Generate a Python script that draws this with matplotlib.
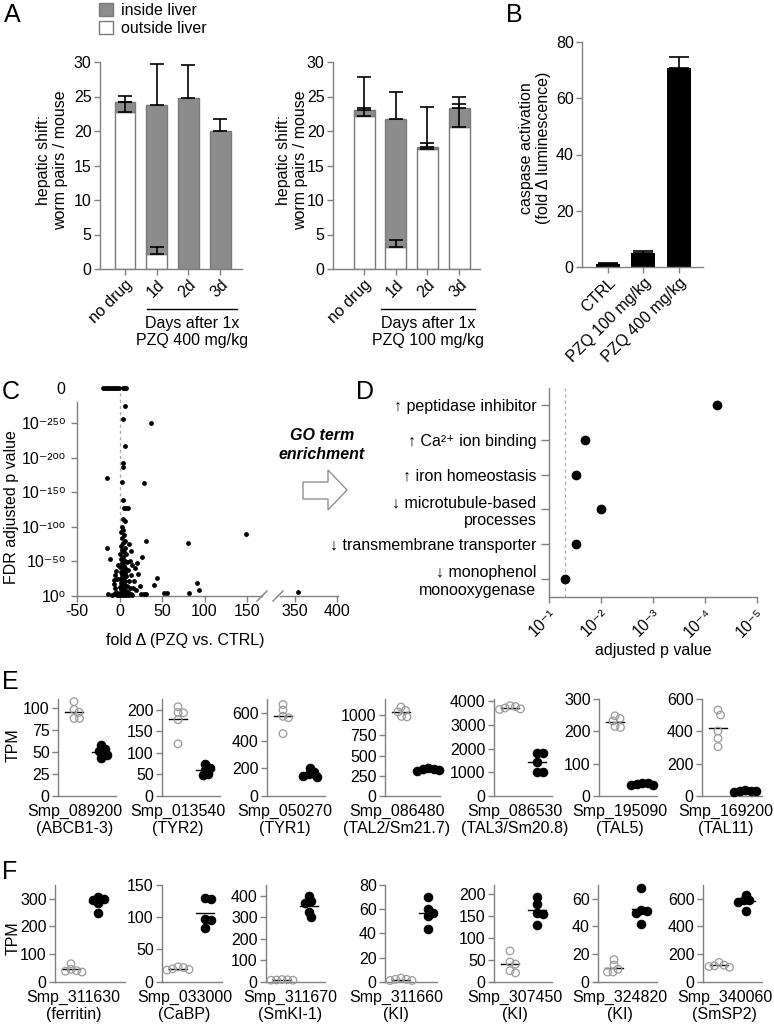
import numpy as np
import matplotlib
matplotlib.use('Agg')
from matplotlib import pyplot as plt
from matplotlib import transforms
from matplotlib.patches import Patch, Polygon
from matplotlib.lines import Line2D
from matplotlib.ticker import NullFormatter, FixedLocator

plt.rcParams['font.family'] = ['Liberation Sans', 'DejaVu Sans']
plt.rcParams['font.size'] = 11.5
plt.rcParams['axes.unicode_minus'] = False
plt.rcParams['axes.edgecolor'] = '#808080'
plt.rcParams['axes.linewidth'] = 1.0
plt.rcParams['xtick.color'] = '#808080'
plt.rcParams['ytick.color'] = '#808080'
plt.rcParams['xtick.labelcolor'] = 'black'
plt.rcParams['ytick.labelcolor'] = 'black'

W, H = 774, 1031

##### data
# A: worm pairs per mouse (outside liver / total), upper error
a_groups = ['no drug', '1d', '2d', '3d']
a400_out = [22.7, 2.2, 0.0, 0.0]
a400_out_err = [1.5, 1.0, 0.0, 0.0]
a400_tot = [24.2, 23.7, 24.8, 20.0]
a400_tot_err = [0.9, 6.0, 4.8, 1.7]
a100_out = [22.2, 3.2, 17.4, 20.6]
a100_out_err = [1.1, 1.0, 0.8, 3.3]
a100_tot = [23.0, 21.8, 17.7, 23.4]
a100_tot_err = [4.8, 3.9, 5.8, 1.5]

# B: caspase activation
b_groups = ['CTRL', 'PZQ 100 mg/kg', 'PZQ 400 mg/kg']
b_vals = [1.0, 4.9, 70.9]
b_err = [0.3, 0.9, 3.6]

# C: fold change vs -log10(FDR); 300 = p of 0
c_fold = [-19, -17, -15, -13, -11, -9, -7, -5, -3, -1, 4, 6, 8,
          7, 4.3, 37, 6, 4.5, 4.5, -14.5, 28.5, 3.5, 4, 5, 8, 10, 4, 7,
          3, 4, 2, 5, 3, 6, 4, 2, 7, 3, 5, 1, 8, 4, 2, 6, 9, 3, 5, 1, 7, 4,
          10, 2, 6, 3, 8, 5, 1, 4, 11, 7, 2, 5, 3, 9, 6, 1, 4, 12, 2, 7, 5,
          3, 10, 1, 6, 4, 8, 2, 13, 0, 5, 9, 3, 7, 11, 1, 15,
          -2, -3, -4, -5, -6, -3, -5, -4, -2, -6, -7, -9,
          15, 18, 20, 22, 16, 19, 24, 26, 14, 17, 25, 29, 31, 12, 13, 11,
          44, 41, 91.5, 93.5, 81.5, 52, 56, -14, 354, 31, 81, 149, -14.5, -11]
c_mlogp = [300, 300, 300, 300, 300, 300, 300, 300, 300, 300, 300, 300, 300,
           275, 256, 250, 217, 192, 187, 171, 163, 165, 139, 127, 127, 127, 111, 108,
           100, 95, 92, 88, 84, 80, 76, 72, 70, 67, 64, 61, 60, 57, 54, 51, 49, 47, 44, 42, 40, 38,
           37, 35, 33, 31, 29, 27, 25, 23, 22, 21, 19, 18, 16, 15, 14, 13, 12, 11, 10, 9, 8,
           7, 6, 5, 5, 4, 3, 3, 3, 2, 2, 2, 1, 1, 1, 1, 1,
           2, 1, 6, 12, 18, 25, 30, 36, 45, 23, 3, 1,
           45, 40, 47, 32, 12, 8, 14, 56, 30, 22, 3, 3, 3, 50, 65, 75,
           26, 16, 19, 9, 5, 5, 5, 3, 6, 80, 76, 89, 70, 53]
c_yticks = [0, 50, 100, 150, 200, 250]

# D: GO term enrichment
d_terms = ['\u2191 peptidase inhibitor', '\u2191 Ca\u00b2\u207a ion binding',
           '\u2191 iron homeostasis', '\u2193 microtubule-based\nprocesses',
           '\u2193 transmembrane transporter', '\u2193 monophenol\nmonooxygenase']
d_padj = [6e-5, 0.02, 0.03, 0.01, 0.03, 0.049]
d_xticks = [1e-1, 1e-2, 1e-3, 1e-4, 1e-5]

# E: downregulated genes, TPM (CTRL open, PZQ filled)
e_genes = ['Smp_089200\n(ABCB1-3)', 'Smp_013540\n(TYR2)', 'Smp_050270\n(TYR1)',
           'Smp_086480\n(TAL2/Sm21.7)', 'Smp_086530\n(TAL3/Sm20.8)',
           'Smp_195090\n(TAL5)', 'Smp_169200\n(TAL11)']
e_ctrl = [[107, 98, 95, 88, 88], [207, 194, 193, 177, 121], [660, 620, 575, 565, 450],
          [1100, 1060, 1040, 985, 980], [3820, 3780, 3720, 3680, 3660],
          [248, 240, 232, 215, 212], [532, 501, 402, 357, 305]]
e_pzq = [[58, 53, 51, 47, 43], [74, 66, 60, 50, 48], [205, 175, 160, 145, 140],
         [345, 340, 330, 320, 305], [1800, 1800, 1420, 1030, 1030],
         [40, 40, 38, 35, 33], [35, 33, 30, 28, 27]]
e_ymax = [110, 225, 700, 1200, 4100, 300, 600]
e_ticks = [[0, 25, 50, 75, 100], [0, 50, 100, 150, 200], [0, 200, 400, 600],
           [0, 250, 500, 750, 1000], [0, 1000, 2000, 3000, 4000],
           [0, 100, 200, 300], [0, 200, 400, 600]]

# F: upregulated genes, TPM
f_genes = ['Smp_311630\n(ferritin)', 'Smp_033000\n(CaBP)', 'Smp_311670\n(SmKI-1)',
           'Smp_311660\n(KI)', 'Smp_307450\n(KI)', 'Smp_324820\n(KI)', 'Smp_340060\n(SmSP2)']
f_ctrl = [[65, 45, 40, 38, 35], [23, 22, 20, 19, 18], [10, 9, 8, 7, 7], [3, 2, 2, 1, 1],
          [70, 45, 40, 25, 20], [16, 12, 9, 7, 7], [140, 120, 115, 110, 105]]
f_pzq = [[305, 300, 295, 285, 250], [130, 128, 97, 95, 83], [400, 375, 365, 325, 300],
         [70, 60, 57, 54, 44], [193, 177, 156, 155, 130], [68, 52, 51, 50, 42],
         [630, 595, 590, 580, 515]]
f_ymax = [350, 150, 450, 80, 220, 70, 700]
f_ticks = [[0, 100, 200, 300], [0, 50, 100, 150], [0, 100, 200, 300, 400],
           [0, 20, 40, 60, 80], [0, 50, 100, 150, 200], [0, 20, 40, 60], [0, 200, 400, 600]]

SUP = str.maketrans('0123456789-+', '\u2070\u00b9\u00b2\u00b3\u2074\u2075\u2076\u2077\u2078\u2079\u207b\u207a')


def pow10(e):
    return '10' + str(e).translate(SUP)


fig = plt.figure(figsize=(W / 100, H / 100), dpi=100)


def fx(x):
    return x / W


def fy(y):
    return 1 - y / H


def px_axes(x0, x1, y0, y1):
    return fig.add_axes([x0 / W, 1 - y1 / H, (x1 - x0) / W, (y1 - y0) / H])


def clean(ax):
    ax.spines['top'].set_visible(False)
    ax.spines['right'].set_visible(False)
    ax.tick_params(direction='out', length=4, width=1, pad=2)


def swarm(vals, ppu_y, ppu_x, d=5.5):
    # simple beeswarm: offsets in data units
    placed = []
    offs = np.zeros(len(vals))
    for i in np.argsort(vals)[::-1]:
        y = vals[i] * ppu_y
        best = None
        for step in np.arange(0, 40, 0.5):
            for dx in (step, -step):
                if all((dx - px) ** 2 + (y - py) ** 2 >= d * d for px, py in placed):
                    best = dx
                    break
            if best is not None:
                break
        placed.append((best, y))
        offs[i] = best / ppu_x
    return offs


##### A
def hepatic(ax, out, out_err, tot, tot_err):
    x = np.arange(len(a_groups))
    out = np.array(out)
    tot = np.array(tot)
    ax.bar(x, out, 0.66, color='white', edgecolor='#7a7a7a', lw=1, zorder=2)
    ax.bar(x, tot - out, 0.66, bottom=out, color='#8c8c8c', edgecolor='#7a7a7a', lw=1, zorder=2)
    m = np.array(out_err) > 0
    ax.errorbar(x[m], out[m], yerr=[np.zeros(m.sum()), np.array(out_err)[m]], fmt='none',
                ecolor='black', elinewidth=1.2, capsize=5, capthick=1.2, zorder=3)
    ax.errorbar(x, tot, yerr=[np.zeros(len(x)), tot_err], fmt='none',
                ecolor='black', elinewidth=1.2, capsize=5, capthick=1.2, zorder=3)
    ax.set_ylim(0, 30)
    ax.set_yticks(range(0, 31, 5))
    ax.set_xticks(x)
    ax.set_xticklabels(a_groups, rotation=45, ha='right', rotation_mode='anchor')
    clean(ax)


ax1 = px_axes(100, 242, 62, 269)
hepatic(ax1, a400_out, a400_out_err, a400_tot, a400_tot_err)
ax1.set_xlim(-0.79, 3.69)
ax2 = px_axes(333, 480, 62, 269)
hepatic(ax2, a100_out, a100_out_err, a100_tot, a100_tot_err)
ax2.set_xlim(-0.98, 3.66)

for xc, xa, xb, dose in [(52, 147, 237, '400'), (292, 381, 475, '100')]:
    fig.text(fx(xc), fy(160), 'hepatic shift:\nworm pairs / mouse', rotation=90,
             ha='center', va='center', multialignment='center', fontsize=11.5)
    fig.add_artist(Line2D([fx(xa), fx(xb)], [fy(309), fy(309)], color='black', lw=1))
    fig.text(fx((xa + xb) / 2), fy(316), 'Days after 1x\nPZQ %s mg/kg' % dose,
             ha='center', va='top', multialignment='center', linespacing=1.15)

fig.legend(handles=[Patch(facecolor='#8c8c8c', edgecolor='#7a7a7a'),
                    Patch(facecolor='white', edgecolor='#7a7a7a')],
           labels=['inside liver', 'outside liver'], loc='upper left',
           bbox_to_anchor=(fx(99), fy(3)), frameon=False, handlelength=0.85,
           handleheight=0.85, handletextpad=0.5, labelspacing=0.2, borderpad=0,
           borderaxespad=0)

##### B
axb = px_axes(582, 703, 42, 267)
xb = np.arange(len(b_groups))
axb.bar(xb, b_vals, 0.68, color='black', zorder=2)
axb.errorbar(xb, b_vals, yerr=[np.zeros(len(xb)), b_err], fmt='none', ecolor='black',
             elinewidth=1.2, capsize=7, capthick=1.2, zorder=3)
axb.set_xlim(-0.73, 2.68)
axb.set_ylim(0, 80)
axb.set_yticks(range(0, 81, 20))
axb.set_xticks(xb)
axb.set_xticklabels(b_groups, rotation=45, ha='right', rotation_mode='anchor')
clean(axb)
fig.text(fx(535), fy(148), 'caspase activation\n(fold \u0394 luminescence)', rotation=90,
         ha='center', va='center', multialignment='center', fontsize=11.5)

##### C  (broken x axis: two axes side by side)
axc = px_axes(77, 262, 385, 596)
axc2 = px_axes(280, 337.5, 385, 596)
cf = np.array(c_fold)
cp = np.array(c_mlogp)
for ax, m in ((axc, cf <= 167), (axc2, cf >= 332)):
    ax.scatter(cf[m], cp[m], s=12, color='black', zorder=3, clip_on=False, lw=0)
    ax.set_ylim(0, 305)
    clean(ax)
axc.plot([0, 0], [0, 300], ls=(0, (2.5, 2.5)), color='#aaaaaa', lw=0.9, zorder=1)
axc.set_xlim(-50, 167.6)
axc.set_xticks([-50, 0, 50, 100, 150])
axc.set_yticks(c_yticks)
axc.set_yticklabels([pow10(-v) if v else pow10(0) for v in c_yticks])
axc.spines['left'].set_bounds(0, 280)
axc.tick_params(axis='y', pad=4)
axc2.set_xlim(332.4, 400.5)
axc2.set_xticks([350, 400])
axc2.spines['left'].set_visible(False)
axc2.set_yticks([])
fig.text(fx(61), fy(389), '0', ha='center', va='center')
fig.text(fx(12), fy(507), 'FDR adjusted p value', rotation=90, ha='center', va='center')
fig.text(fx(185), fy(640), 'fold \u0394 (PZQ vs. CTRL)', ha='center', va='center')
for xm in (262, 278):
    fig.add_artist(Line2D([fx(xm - 5), fx(xm + 5)], [fy(601), fy(591)], color='#808080', lw=1))

# GO arrow
arrow = [(303, 482), (328, 482), (328, 470), (347, 490), (328, 510), (328, 499), (303, 499)]
fig.add_artist(Polygon([(fx(a), fy(b)) for a, b in arrow], closed=True, transform=fig.transFigure,
                       facecolor='white', edgecolor='#909090', lw=1))
fig.text(fx(322), fy(445), 'GO term\nenrichment', ha='center', va='center',
         fontweight='bold', style='italic', multialignment='center', linespacing=1.3)

##### D
axd = px_axes(549, 757, 388, 597)
yd = np.arange(len(d_terms))
axd.scatter(d_padj, yd, s=36, color='black', zorder=3, clip_on=False)
axd.set_xscale('log')
axd.set_xlim(1e-1, 1e-5)
axd.set_ylim(5.52, -0.49)
axd.axvline(0.05, ls=(0, (2.5, 2.5)), color='#aaaaaa', lw=0.9, zorder=1)
axd.set_yticks(yd)
axd.set_yticklabels(d_terms)
axd.xaxis.set_major_locator(FixedLocator(d_xticks))
axd.xaxis.set_major_formatter(NullFormatter())
axd.xaxis.set_minor_formatter(NullFormatter())
clean(axd)
axd.tick_params(axis='y', length=6, pad=3)
axd.tick_params(axis='x', which='minor', length=2.5)
# rotated decade labels placed at each tick
tr = transforms.blended_transform_factory(axd.transData, axd.transAxes)
for v in d_xticks:
    axd.text(v, -0.045, pow10(int(round(np.log10(v)))), transform=tr, rotation=45,
             ha='right', va='top', rotation_mode='anchor')
fig.text(fx(653), fy(650), 'adjusted p value', ha='center', va='center')


##### E / F
def tpm_panel(x0, w, ytop, ybot, ctrl, pzq, ymax, ticks, gene, xlab):
    ax = px_axes(x0, x0 + w, ytop, ybot)
    ppu_x = 27.0
    ax.set_xlim(-16 / ppu_x, (w - 16) / ppu_x)
    ax.set_ylim(0, ymax)
    ppu_y = (ybot - ytop) / ymax
    for k, vals, face, edge, s in [(0, ctrl, 'none', '#9a9a9a', 30), (1, pzq, 'black', 'black', 36)]:
        vals = np.array(vals, dtype=float)
        off = swarm(vals, ppu_y, ppu_x)
        m = vals.mean()
        ax.plot([k - 0.33, k + 0.33], [m, m], color='black', lw=1, zorder=2)
        ax.scatter(k + off, vals, s=s, facecolors=face, edgecolors=edge, linewidths=0.9,
                   zorder=3, clip_on=False)
    ax.set_yticks(ticks)
    ax.set_xticks([])
    clean(ax)
    fig.text(fx(xlab), fy(ybot + 8), gene, ha='center', va='top',
             multialignment='center', linespacing=1.15)
    return ax


e_x0 = [58, 162, 267, 385, 494, 599, 702]
e_w = [58, 58, 58, 55, 58, 58, 60]
e_lab = [74.5, 178, 284.5, 397, 515, 619.5, 725.5]
for i in range(7):
    tpm_panel(e_x0[i], e_w[i], 699, 796, e_ctrl[i], e_pzq[i], e_ymax[i], e_ticks[i],
              e_genes[i], e_lab[i])
f_x0 = [55, 162, 266, 385, 494, 598, 703]
f_w = [70, 60, 59, 52, 58, 59, 59]
f_lab = [73.5, 184.5, 290.5, 396, 515, 619.5, 724.5]
for i in range(7):
    tpm_panel(f_x0[i], f_w[i], 885, 981.7, f_ctrl[i], f_pzq[i], f_ymax[i], f_ticks[i],
              f_genes[i], f_lab[i])
fig.text(fx(13), fy(745), 'TPM', rotation=90, ha='center', va='center')
fig.text(fx(13), fy(938), 'TPM', rotation=90, ha='center', va='center')

##### panel letters
for lab, x, y in [('A', 4, 3), ('B', 506, 3), ('C', 2, 380), ('D', 356, 380),
                  ('E', 2, 670), ('F', 2, 860)]:
    fig.text(fx(x), fy(y), lab, fontsize=18, va='top', ha='left')

fig.savefig('out.png', dpi=100)
